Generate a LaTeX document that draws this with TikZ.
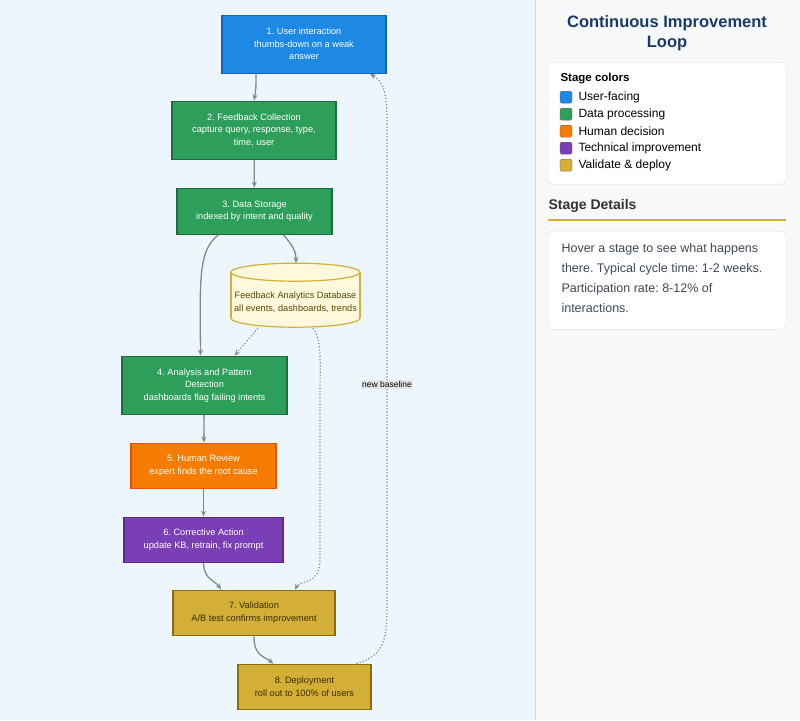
\documentclass[tikz,border=0pt]{standalone}
\usepackage{fontspec}
\setmainfont{Liberation Sans}
\usetikzlibrary{arrows.meta}
\definecolor{userBlue}{HTML}{1E88E5}
\definecolor{userBlueD}{HTML}{1565C0}
\definecolor{dataGreen}{HTML}{2E9E5B}
\definecolor{dataGreenD}{HTML}{1E6B3E}
\definecolor{humanOrange}{HTML}{F57C00}
\definecolor{humanOrangeD}{HTML}{E65100}
\definecolor{techPurple}{HTML}{7B3FB5}
\definecolor{techPurpleD}{HTML}{5E2A91}
\definecolor{deployGold}{HTML}{D4AF37}
\definecolor{deployGoldD}{HTML}{8A6D0B}
\definecolor{dbFill}{HTML}{FFF8DC}
\definecolor{dbText}{HTML}{5A4500}
\definecolor{goldText}{HTML}{3A2E00}
\definecolor{leftBg}{HTML}{EEF6FD}
\definecolor{panelBg}{HTML}{F7F8FA}
\definecolor{panelLine}{HTML}{CFDAE6}
\definecolor{titleNavy}{HTML}{1B3A6B}
\definecolor{edgeGrey}{HTML}{888888}
\definecolor{bodyGrey}{HTML}{3F4A5A}
\frenchspacing
\tikzset{
  stage/.style = {draw=#1D, fill=#1, text=white, line width=1.2pt, align=center,
    font=\fontsize{9.2}{12.5}\selectfont, inner sep=0pt},
  gold/.style = {draw=deployGoldD, fill=deployGold, text=goldText, line width=1.2pt, align=center,
    font=\fontsize{9.2}{12.5}\selectfont, inner sep=0pt},
  flow/.style = {color=edgeGrey, line width=1.3pt, -{Stealth[length=6pt,width=5pt]}},
  feed/.style = {color=edgeGrey, line width=1.2pt, dotted, -{Stealth[length=6pt,width=5pt]}},
  swatch/.style = {draw=black!60, fill=#1, rounded corners=1.5pt, minimum size=12pt, inner sep=0pt},
  item/.style = {anchor=west, font=\fontsize{12}{14}\selectfont}
}
\begin{document}
\begin{tikzpicture}[x=1pt,y=-1pt]
    % Background
    \fill[leftBg] (0,0) rectangle (535,720);
    \fill[panelBg] (535,0) rectangle (800,720);
    \draw[panelLine] (535,0) -- (535,720);
    \useasboundingbox (0,0) rectangle (800,720);

    %==== Stages ====
    \node[stage=userBlue, minimum width=164, minimum height=58] (s1) at (304,44)
      {1. User interaction\\thumbs-down on a weak\\answer};
    \node[stage=dataGreen, minimum width=164, minimum height=58] (s2) at (254,130)
      {2. Feedback Collection\\capture query, response, type,\\time, user};
    \node[stage=dataGreen, minimum width=155, minimum height=46] (s3) at (254.5,211)
      {3. Data Storage\\indexed by intent and quality};
    \node[stage=dataGreen, minimum width=165, minimum height=58] (s4) at (204.5,385)
      {4. Analysis and Pattern\\Detection\\dashboards flag failing intents};
    \node[stage=humanOrange, minimum width=145, minimum height=45] (s5) at (203.5,465.5)
      {5. Human Review\\expert finds the root cause};
    \node[stage=techPurple, minimum width=159, minimum height=45] (s6) at (203.5,539.5)
      {6. Corrective Action\\update KB, retrain, fix prompt};
    \node[gold, minimum width=162, minimum height=45] (s7) at (254,612.5)
      {7. Validation\\A/B test confirms improvement};
    \node[gold, minimum width=133, minimum height=45] (s8) at (304.5,686.5)
      {8. Deployment\\roll out to 100\% of users};

    %==== Database ====
    \draw[deployGold, line width=1.2pt, fill=dbFill] (295.5,318) ellipse[x radius=64.5, y radius=9];
    \fill[dbFill] (231,272) rectangle (360,318);
    \draw[deployGold, line width=1.2pt] (231,272) -- (231,318) (360,272) -- (360,318);
    \draw[deployGold, line width=1.2pt, fill=dbFill] (295.5,272) ellipse[x radius=64.5, y radius=9];
    \node[text=dbText, align=center, font=\fontsize{9.2}{12.5}\selectfont,
      minimum width=129, minimum height=64, inner sep=0pt] (db) at (295.5,302)
      {Feedback Analytics Database\\all events, dashboards, trends};
    \coordinate (dbTop) at (296,263);
    \coordinate (dbOutA) at (258,328);
    \coordinate (dbOutB) at (313,328);

    %==== Connectors ====
    \draw[flow] (s1.south -| 256,0) .. controls (256,85) and (256,90) .. (s2.north);
    \draw[flow] (s2) -- (s3);
    \draw[flow] ([xshift=-36]s3.south) .. controls (198,250) and (200,280) .. ([xshift=-4]s4.north);
    \draw[flow] ([xshift=29]s3.south) .. controls (292,245) and (296,250) .. (dbTop);
    \draw[feed] (dbOutA) -- ([xshift=30]s4.north);
    \draw[flow] (s4) -- (s5);
    \draw[flow] (s5) -- (s6);
    \draw[flow] (s6.south) .. controls (204,580) and (215,580) .. ([xshift=-33]s7.north);
    \draw[feed] (dbOutB) .. controls (322,340) and (320,360) .. (320,400)
      -- (320,560) .. controls (320,585) and (300,580) .. ([xshift=41]s7.north);
    \draw[flow] (s7.south) .. controls (254,655) and (262,655) .. ([xshift=-31]s8.north);
    \draw[feed] ([xshift=52]s8.north) .. controls (385,655) and (387,640) .. (387,600)
      -- (387,120) .. controls (387,85) and (380,80) .. ([xshift=66]s1.south);
    \node[fill=black!10, inner sep=1.5pt, font=\fontsize{8.5}{9}\selectfont] (nb) at (387,384) {new baseline};

    %==== Side panel ====
    \node[text=titleNavy, align=center, font=\bfseries\fontsize{16.5}{20}\selectfont] (title) at (667,33)
      {Continuous Improvement\\Loop};
    \draw[panelLine, fill=white, rounded corners=4pt] (548,62) rectangle (786,184);
    \node[anchor=west, font=\bfseries\fontsize{11.5}{13}\selectfont] (legend) at (557,78) {Stage colors};
    \node[swatch=userBlue] (c1) at (566,97) {};
    \node[item] at (575,97) {User-facing};
    \node[swatch=dataGreen] (c2) at (566,114) {};
    \node[item] at (575,114) {Data processing};
    \node[swatch=humanOrange] (c3) at (566,131) {};
    \node[item] at (575,131) {Human decision};
    \node[swatch=techPurple] (c4) at (566,148) {};
    \node[item] at (575,148) {Technical improvement};
    \node[swatch=deployGold] (c5) at (566,165) {};
    \node[item] at (575,165) {Validate \& deploy};

    \node[anchor=west, text=black!80, font=\bfseries\fontsize{14}{16}\selectfont] (details) at (545,206) {Stage Details};
    \draw[deployGold, line width=1.5pt] (548,220) -- (786,220);
    \draw[panelLine, fill=white, rounded corners=4pt] (548,231) rectangle (786,329);
    \node[anchor=north west, text=bodyGrey, align=left, font=\fontsize{12.5}{20}\selectfont] (info) at (558,240)
      {Hover a stage to see what happens\\there. Typical cycle time: 1-2 weeks.\\Participation rate: 8-12\% of\\interactions.};
\end{tikzpicture}
\end{document}
